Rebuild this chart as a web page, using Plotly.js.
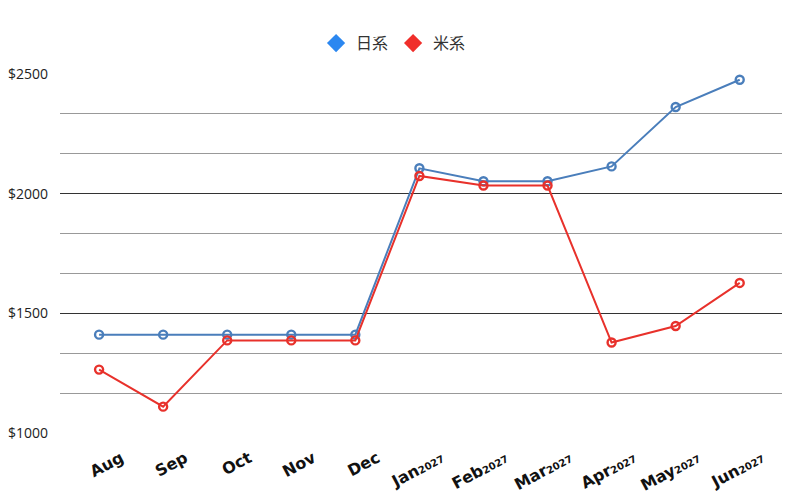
<!DOCTYPE html>
<html>
<head>
<meta charset="utf-8">
<script src="https://cdn.plot.ly/plotly-3.0.1.min.js"></script>
<style>
  html, body { margin: 0; padding: 0; background: #fff; }
  #chart { width: 800px; height: 500px; }
</style>
</head>
<body>
<div id="chart"></div>
<script>
const yr = '<span style="font-size:10px">2027</span>';
const months = ['Aug', 'Sep', 'Oct', 'Nov', 'Dec',
  'Jan' + yr, 'Feb' + yr, 'Mar' + yr, 'Apr' + yr, 'May' + yr, 'Jun' + yr];
const nikkei = [1411, 1411, 1411, 1411, 1411, 2106, 2052, 2052, 2114, 2362, 2476];
const beikei = [1265, 1110, 1387, 1387, 1387, 2074, 2034, 2034, 1378, 1447, 1627];
const seriesNames = ['日系', '米系'];

const lineColors = ['#4a7ebb', '#e8312b'];
const legendColors = ['#2b87f0', '#f02e2a'];

// real lines, kept out of the legend
const lines = [nikkei, beikei].map((vals, i) => ({
  x: months,
  y: vals,
  type: 'scatter',
  mode: 'lines+markers',
  line: { color: lineColors[i], width: 2 },
  marker: { symbol: 'circle-open', size: 8, color: lineColors[i], line: { width: 2.4, color: lineColors[i] } },
  showlegend: false,
  hoverinfo: 'none',
  cliponaxis: false,
}));

// legend entries use diamonds
const legendOnly = seriesNames.map((name, i) => ({
  x: [null],
  y: [null],
  name,
  type: 'scatter',
  mode: 'markers',
  marker: { symbol: 'diamond', size: 14, color: legendColors[i] },
}));

const layout = {
  width: 800,
  height: 500,
  margin: { l: 60, r: 18, t: 74, b: 67 },
  paper_bgcolor: '#fff',
  plot_bgcolor: '#fff',
  showlegend: true,
  legend: {
    orientation: 'h',
    x: 0.462, xanchor: 'center',
    y: 1.086, yanchor: 'middle',
    font: { family: '"Noto Sans CJK JP", "Noto Sans", sans-serif', size: 16, color: '#333' },
    itemwidth: 30,
  },
  xaxis: {
    type: 'category',
    range: [-0.61, 10.66],
    showgrid: false,
    zeroline: false,
    showline: false,
    ticks: '',
    tickangle: -28,
    ticklabelshift: 22,
    ticklabelstandoff: 12,
    tickfont: { family: '"DejaVu Sans", sans-serif', size: 16, color: '#111', weight: 'bold' },
  },
  yaxis: {
    range: [1000, 2500],
    dtick: 500,
    tickprefix: '$',
    showgrid: true,
    gridcolor: '#333',
    gridwidth: 1,
    zeroline: false,
    showline: false,
    ticks: '',
    ticklabelstandoff: 11,
    tickfont: { family: '"Open Sans", sans-serif', size: 14, color: '#222' },
    minor: { dtick: 500 / 3, showgrid: true, gridcolor: '#999', gridwidth: 1 },
  },
};

Plotly.newPlot('chart', [...lines, ...legendOnly], layout, { displayModeBar: false, staticPlot: true });
</script>
</body>
</html>
